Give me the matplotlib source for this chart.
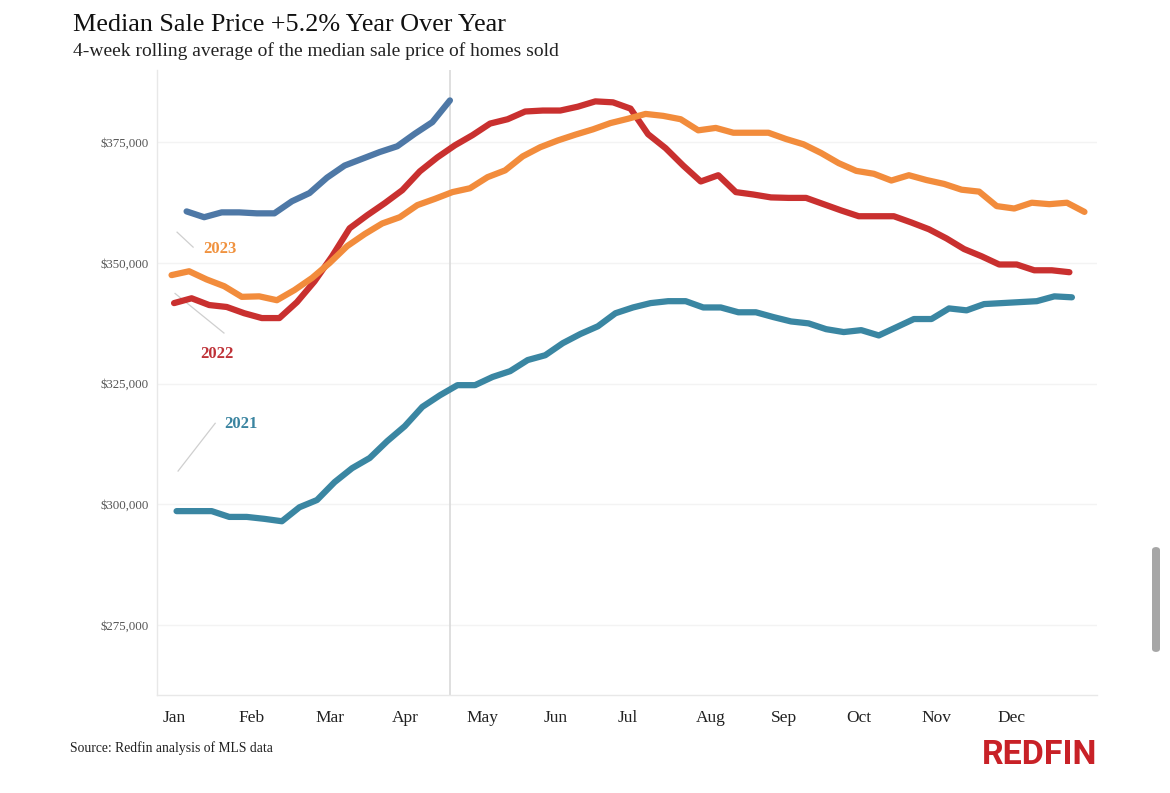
import numpy as np
import matplotlib
matplotlib.use("Agg")
from matplotlib import pyplot, font_manager
from matplotlib.patches import FancyBboxPatch
from matplotlib.ticker import FuncFormatter

# weekly 4-week rolling median sale price
price_2023_ytd = [360700, 359500, 360500, 360500, 360300, 360300, 362800, 364500,
                  367700, 370200, 371600, 373000, 374200, 376800, 379200, 383700]

price_orange = [347500, 348300, 346600, 345200, 343000, 343100, 342300, 344400, 346900, 350000,
                353500, 356000, 358200, 359500, 362000, 363300, 364700, 365500, 367800, 369200,
                372100, 374000, 375400, 376600, 377700, 379000, 379900, 380900, 380500, 379800,
                377500, 378000, 377000, 377000, 377000, 375700, 374600, 372800, 370700, 369100,
                368500, 367100, 368200, 367200, 366400, 365200, 364800, 361800, 361300, 362500,
                362200, 362500, 360600]

price_red = [341700, 342700, 341300, 340900, 339600, 338600, 338600, 341900, 346200, 351400,
             357200, 359900, 362400, 365100, 369000, 371900, 374400, 376500, 378900, 379800,
             381400, 381600, 381600, 382400, 383500, 383300, 382000, 376700, 373800, 370200,
             366900, 368200, 364700, 364200, 363600, 363500, 363500, 362200, 360900, 359700,
             359700, 359700, 358400, 357000, 355100, 352900, 351400, 349700, 349700, 348500,
             348500, 348100]

price_teal = [298600, 298600, 298600, 297400, 297400, 297000, 296500, 299400, 300900, 304600,
              307500, 309600, 313100, 316200, 320200, 322600, 324700, 324700, 326400, 327600,
              329900, 330900, 333400, 335300, 336900, 339600, 340800, 341700, 342100, 342100,
              340800, 340800, 339800, 339800, 338800, 337900, 337500, 336300, 335700, 336100,
              335000, 336700, 338400, 338400, 340600, 340200, 341500, 341700, 341900, 342100,
              343100, 342900]

# first week of each series, in day of year
start_day = {"ytd": 5, "orange": -1, "red": 0, "teal": 1}

month_labels = ["Jan", "Feb", "Mar", "Apr", "May", "Jun", "Jul", "Aug", "Sep", "Oct", "Nov", "Dec"]
month_days = [0, 31, 62, 92, 123, 152, 181, 214, 243, 273, 304, 334]
y_ticks = [275000, 300000, 325000, 350000, 375000]

colors = {"ytd": "#4e78a6", "orange": "#f28c3c", "red": "#c9302f", "teal": "#3a86a2"}
label_colors = {"orange": "#f0923f", "red": "#bf3238", "teal": "#3a84a0"}

serif = "Liberation Serif"
installed = {f.name for f in font_manager.fontManager.ttflist}
logo_font = "Liberation Sans Narrow" if "Liberation Sans Narrow" in installed else "Roboto"


def week_days(values, first):
    return first + 7 * np.arange(len(values))


fig = pyplot.figure(figsize=(11.7, 7.93), dpi=100)
ax = fig.add_axes([157/1170, 1 - 695/793, (1097 - 157)/1170, (695 - 70)/793])

series = [("teal", price_teal), ("red", price_red), ("orange", price_orange), ("ytd", price_2023_ytd)]
for key, values in series:
    ax.plot(week_days(values, start_day[key]), values, color=colors[key], lw=4.5,
            solid_capstyle="round", solid_joinstyle="round", zorder=3)

# marker for the latest week
ax.axvline(week_days(price_2023_ytd, start_day["ytd"])[-1], color="#d9d9d9", lw=1.2, zorder=1)

ax.set_xlim(-6.8, 368)
ax.set_ylim(260500, 390000)
ax.set_yticks(y_ticks)
ax.yaxis.set_major_formatter(FuncFormatter(lambda v, _: f"${v:,.0f}"))
ax.set_xticks(month_days, month_labels)
ax.grid(axis="y", color="#f3f3f3", lw=1)
ax.set_axisbelow(True)
ax.tick_params(axis="both", length=0)
ax.tick_params(axis="y", pad=6, labelsize=9.3, labelcolor="#555555")
ax.tick_params(axis="x", pad=11, labelsize=12.5, labelcolor="#222222")
for lab in ax.get_xticklabels() + ax.get_yticklabels():
    lab.set_fontfamily(serif)
for side in ["top", "right"]:
    ax.spines[side].set_visible(False)
for side in ["left", "bottom"]:
    ax.spines[side].set_color("#e8e8e8")
    ax.spines[side].set_linewidth(1)

# year labels with leader lines
labels = [("2023", "orange", (18.3, 352850), [(1.2, 7.6), (356400, 353300)]),
          ("2022", "red", (17.2, 331100), [(0.4, 19.9), (343700, 335500)]),
          ("2021", "teal", (26.7, 316600), [(1.6, 16.4), (306900, 316800)])]
for text, key, pos, (lx, ly) in labels:
    ax.text(pos[0], pos[1], text, color=label_colors[key], fontsize=12, fontweight="bold",
            fontfamily=serif, ha="center", va="center", zorder=4)
    ax.plot(lx, ly, color="#cfcfcf", lw=0.9, zorder=2)

fig.text(73/1170, 1 - 31/793, "Median Sale Price +5.2% Year Over Year", fontsize=18.8,
         fontfamily=serif, color="#111111", va="baseline")
fig.text(73/1170, 1 - 56/793, "4-week rolling average of the median sale price of homes sold",
         fontsize=14, fontfamily=serif, color="#222222", va="baseline")
fig.text(70/1170, 1 - 752/793, "Source: Redfin analysis of MLS data", fontsize=9.8,
         fontfamily=serif, color="#222222", va="baseline")
fig.text(1097/1170, 1 - 764/793, "REDFIN", fontsize=24.5, fontweight="bold", fontfamily=logo_font,
         color="#c82127", ha="right", va="baseline")

# browser scrollbar visible in the screenshot
fig.patches.append(FancyBboxPatch((1152/1170, 1 - 652/793), 8/1170, 105/793,
                                  boxstyle="round,pad=0,rounding_size=0.004",
                                  transform=fig.transFigure, facecolor="#a6a6a6",
                                  edgecolor="none"))

pyplot.savefig("out.png", dpi=100)
